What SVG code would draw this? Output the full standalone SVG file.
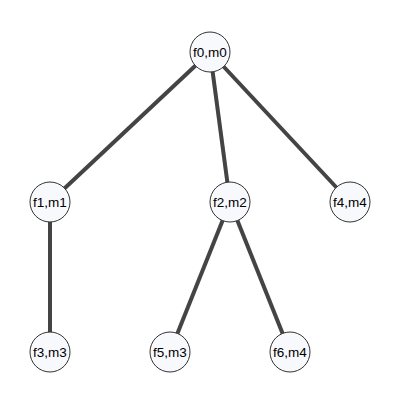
<svg xmlns="http://www.w3.org/2000/svg" width="400" height="400" viewBox="0 0 400 400">
<style>
.edge{stroke:#444;stroke-width:4;fill:none}
.node circle{fill:#f7f9fd;stroke:#333;stroke-width:1}
.node text{font-family:"Liberation Sans",Arial,sans-serif;font-size:13.5px;fill:#000;text-anchor:middle;dominant-baseline:central}
</style>
<rect width="400" height="400" fill="#fff"/>
<g id="connectors">
<line class="edge" x1="210" y1="52" x2="50" y2="202"/>
<line class="edge" x1="210" y1="52" x2="230" y2="202"/>
<line class="edge" x1="210" y1="52" x2="350" y2="202"/>
<line class="edge" x1="50" y1="202" x2="50" y2="352"/>
<line class="edge" x1="230" y1="202" x2="170" y2="352"/>
<line class="edge" x1="230" y1="202" x2="290" y2="352"/>
</g>
<g id="n0" class="node"><circle cx="210" cy="52" r="20"/><text x="210" y="52">f0,m0</text></g>
<g id="n1" class="node"><circle cx="50" cy="202" r="20"/><text x="50" y="202">f1,m1</text></g>
<g id="n2" class="node"><circle cx="230" cy="202" r="20"/><text x="230" y="202">f2,m2</text></g>
<g id="n4" class="node"><circle cx="350" cy="202" r="20"/><text x="350" y="202">f4,m4</text></g>
<g id="n3" class="node"><circle cx="50" cy="352" r="20"/><text x="50" y="352">f3,m3</text></g>
<g id="n5" class="node"><circle cx="170" cy="352" r="20"/><text x="170" y="352">f5,m3</text></g>
<g id="n6" class="node"><circle cx="290" cy="352" r="20"/><text x="290" y="352">f6,m4</text></g>
</svg>
